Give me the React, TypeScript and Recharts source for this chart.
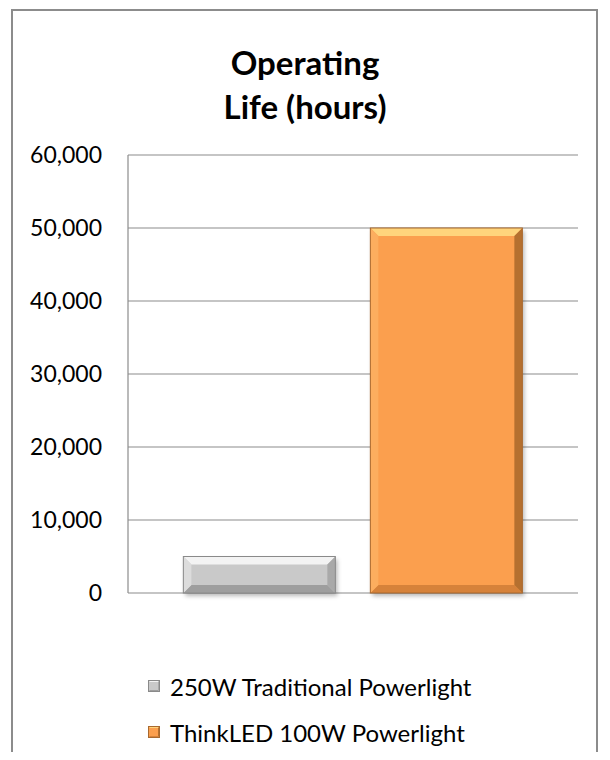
import { BarChart, Bar, XAxis, YAxis, CartesianGrid } from 'recharts';

const categories = ['Operating Life (hours)'];
const traditionalHours = [5000];
const thinkLedHours = [50000];
const yTicks = [0, 10000, 20000, 30000, 40000, 50000, 60000];

const seriesNames = ['250W Traditional Powerlight', 'ThinkLED 100W Powerlight'];

const chartData = categories.map((name, i) => ({
  name,
  traditional: traditionalHours[i],
  thinkled: thinkLedHours[i],
}));

type Palette = {
  mid: string;
  top: string;
  bottom: string;
  left: string;
  right: string;
  stroke: string;
};

const greyPalette: Palette = {
  mid: '#c9c9c9',
  top: '#f3f3f3',
  bottom: '#9e9e9e',
  left: '#dcdcdc',
  right: '#a9a9a9',
  stroke: '#8a8a8a',
};

const orangePalette: Palette = {
  mid: '#fb9f4e',
  top: '#ffd47c',
  bottom: '#d6823a',
  left: '#fcae5f',
  right: '#b5702f',
  stroke: '#a8692f',
};

const FONT = 'Lato, "Open Sans", sans-serif';

function BevelBar(props: any) {
  const { x, y, width: w, height: h, palette, id } = props;
  if (!w || !h) return null;
  const b = Math.min(8, h / 2, w / 2);
  const pts = (arr: number[][]) => arr.map((p) => p.join(',')).join(' ');
  return (
    <g>
      <defs>
        <filter id={`shadow-${id}`} x="-10%" y="-10%" width="130%" height="130%">
          <feGaussianBlur stdDeviation="2" />
        </filter>
      </defs>
      <rect x={x + 2} y={y + 3} width={w} height={h} fill="rgba(0,0,0,0.28)" filter={`url(#shadow-${id})`} />
      <rect x={x} y={y} width={w} height={h} fill={palette.mid} />
      <polygon points={pts([[x, y], [x + w, y], [x + w - b, y + b], [x + b, y + b]])} fill={palette.top} />
      <polygon points={pts([[x, y + h], [x + w, y + h], [x + w - b, y + h - b], [x + b, y + h - b]])} fill={palette.bottom} />
      <polygon points={pts([[x, y], [x + b, y + b], [x + b, y + h - b], [x, y + h]])} fill={palette.left} />
      <polygon points={pts([[x + w, y], [x + w - b, y + b], [x + w - b, y + h - b], [x + w, y + h]])} fill={palette.right} />
      <rect x={x} y={y} width={w} height={h} fill="none" stroke={palette.stroke} strokeWidth={1} />
    </g>
  );
}

function LegendIcon({ palette }: { palette: Palette }) {
  return (
    <svg width={12} height={12} style={{ marginRight: 10 }}>
      <rect x={0} y={0} width={12} height={12} fill={palette.mid} />
      <polygon points="0,0 12,0 10,2 2,2" fill={palette.top} />
      <polygon points="0,12 12,12 10,10 2,10" fill={palette.bottom} />
      <polygon points="12,0 10,2 10,10 12,12" fill={palette.right} />
      <rect x={0.5} y={0.5} width={11} height={11} fill="none" stroke={palette.stroke} strokeWidth={1} />
    </svg>
  );
}

function ChartLegend() {
  const palettes = [greyPalette, orangePalette];
  return (
    <div style={{ fontFamily: FONT, fontSize: 24, color: '#000' }}>
      {seriesNames.map((name, i) => (
        <div key={name} style={{ display: 'flex', alignItems: 'center', height: 46 }}>
          <LegendIcon palette={palettes[i]} />
          <span>{name}</span>
        </div>
      ))}
    </div>
  );
}

export default function App() {
  return (
    <div style={{ position: 'relative', width: 610, height: 760, margin: -8, overflow: 'hidden', background: '#fff' }}>
      <div
        style={{
          position: 'absolute',
          left: 11,
          top: 9,
          width: 587,
          height: 760,
          border: '2px solid #8c8c8c',
          boxSizing: 'border-box',
        }}
      />
      <div
        style={{
          position: 'absolute',
          left: 0,
          top: 40,
          width: 610,
          textAlign: 'center',
          fontFamily: FONT,
          fontWeight: 'bold',
          fontSize: 33,
          lineHeight: '44px',
        }}
      >
        Operating
        <br />
        Life (hours)
      </div>
      <div style={{ position: 'absolute', left: 0, top: 0 }}>
        <BarChart
          width={610}
          height={760}
          data={chartData}
          margin={{ top: 155, right: 32, bottom: 167, left: 0 }}
          barCategoryGap="12.3%"
          barGap={35}
        >
          <CartesianGrid vertical={false} stroke="#8c8c8c" strokeWidth={1.2} />
          <XAxis dataKey="name" hide />
          <YAxis
            width={128}
            domain={[0, 60000]}
            ticks={yTicks}
            interval={0}
            tickLine={false}
            axisLine={{ stroke: '#8c8c8c', strokeWidth: 1.2 }}
            tickSize={0}
            tickMargin={26}
            tickFormatter={(v: number) => v.toLocaleString('en-US')}
            tick={{ fill: '#000', fontSize: 23, fontFamily: FONT }}
          />
          <Bar
            dataKey="traditional"
            name={seriesNames[0]}
            isAnimationActive={false}
            shape={(p: any) => <BevelBar {...p} palette={greyPalette} id="a" />}
          />
          <Bar
            dataKey="thinkled"
            name={seriesNames[1]}
            isAnimationActive={false}
            shape={(p: any) => <BevelBar {...p} palette={orangePalette} id="b" />}
          />
        </BarChart>
      </div>
      <div style={{ position: 'absolute', left: 148, top: 663 }}>
        <ChartLegend />
      </div>
    </div>
  );
}
